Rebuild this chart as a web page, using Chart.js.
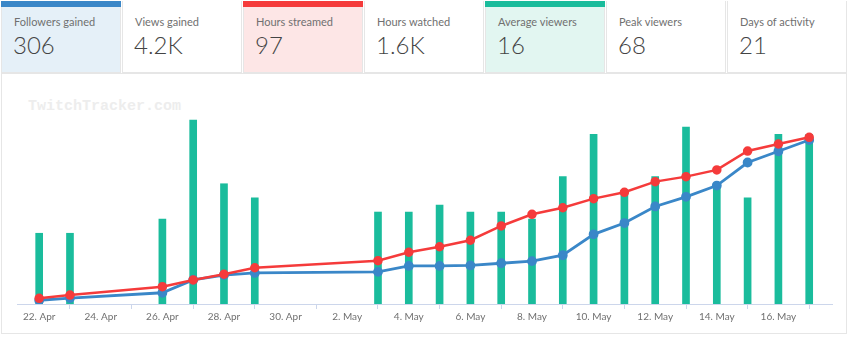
<!DOCTYPE html>
<html>
<head>
<meta charset="utf-8">
<script src="https://cdn.jsdelivr.net/npm/chart.js@4.4.1/dist/chart.umd.min.js"></script>
<style>
  html, body { margin: 0; padding: 0; background: #fff; }
  body { width: 850px; height: 337px; position: relative; overflow: hidden; font-family: Lato, "Open Sans", sans-serif; }
  .box { position: absolute; top: 1px; height: 72px; width: 120px; border: 1px solid #e6e6e6; border-top: none; box-sizing: border-box; background: #fff; }
  .box .bar { position: absolute; left: -1px; right: -1px; top: 0; height: 6px; }
  .box .lbl { position: absolute; left: 12px; top: 14px; font-size: 11px; color: #707070; white-space: nowrap; }
  .box .val { position: absolute; left: 11px; top: 29px; font-size: 24px; font-weight: 300; color: #444; white-space: nowrap; }
  #panel { position: absolute; left: 1px; top: 73px; width: 846px; height: 261px; border: 1px solid #e6e6e6; box-sizing: border-box; }
  #mark { position: absolute; left: 28px; top: 98px; font-family: "Liberation Mono", "DejaVu Sans Mono", monospace; font-weight: bold; font-size: 15px; color: #ededed; }
  #wrap { position: absolute; left: 0; top: 74px; width: 850px; height: 263px; }
</style>
</head>
<body>
<div id="panel"></div>
<div id="mark">TwitchTracker.com</div>
<div id="stats"></div>
<div id="wrap"><canvas id="chart"></canvas></div>
<script>
// header stats
const statLabels = ["Followers gained", "Views gained", "Hours streamed", "Hours watched", "Average viewers", "Peak viewers", "Days of activity"];
const statValues = ["306", "4.2K", "97", "1.6K", "16", "68", "21"];
const statAccent = ["#3a87c8", null, "#f53b3b", null, "#1abc9c", null, null];
const statBg = ["#e5f0f8", "#fff", "#fde6e6", "#fff", "#e2f6f1", "#fff", "#fff"];

// daily data (active days only)
const days = ["04-22", "04-23", "04-26", "04-27", "04-28", "04-29", "05-03", "05-04", "05-05", "05-06", "05-07",
  "05-08", "05-09", "05-10", "05-11", "05-12", "05-13", "05-14", "05-15", "05-16", "05-17"];
const avgViewers = [10, 10, 12, 26, 17, 15, 13, 13, 14, 13, 13, 12, 18, 24, 16, 18, 25, 17, 15, 24, 24];
const hoursCumulative = [3.3, 5.2, 10.1, 14.0, 17.3, 21.1, 25.2, 30.1, 33.3, 37.1, 45.4, 52.2, 56.0, 61.3, 65.0, 71.2, 74.1, 78.0, 89.0, 93.1, 97.0];
const followersCumulative = [7, 11, 21, 45, 54, 58, 60, 71, 71, 72, 76, 80, 91, 130, 151, 182, 200, 221, 264, 285, 306];
const monthNames = ["Jan", "Feb", "Mar", "Apr", "May", "Jun", "Jul", "Aug", "Sep", "Oct", "Nov", "Dec"];

const stats = document.getElementById("stats");
statLabels.forEach((lbl, i) => {
  const box = document.createElement("div");
  box.className = "box";
  box.style.left = (1 + i * 121) + "px";
  box.style.background = statBg[i];
  box.innerHTML = (statAccent[i] ? `<div class="bar" style="background:${statAccent[i]}"></div>` : "") +
    `<div class="lbl">${lbl}</div><div class="val">${statValues[i]}</div>`;
  stats.appendChild(box);
});

const start = Date.UTC(2018, 3, 22);
const dayIndex = s => {
  const [m, d] = s.split("-").map(Number);
  return Math.round((Date.UTC(2018, m - 1, d) - start) / 86400000);
};
const dayLabel = v => {
  const d = new Date(start + v * 86400000);
  return d.getUTCDate() + ". " + monthNames[d.getUTCMonth()];
};
const xs = days.map(dayIndex);

new Chart(document.getElementById("chart"), {
  type: "bar",
  data: {
    datasets: [
      {
        type: "line",
        data: xs.map((x, i) => ({ x, y: hoursCumulative[i] })),
        yAxisID: "yHours",
        borderColor: "#f53b3b",
        backgroundColor: "#f53b3b",
        borderWidth: 2.5,
        pointRadius: 3.5,
        order: 0
      },
      {
        type: "line",
        data: xs.map((x, i) => ({ x, y: followersCumulative[i] })),
        yAxisID: "yFollowers",
        borderColor: "#3a87c8",
        backgroundColor: "#3a87c8",
        borderWidth: 2.8,
        pointRadius: 3.5,
        order: 1
      },
      {
        data: xs.map((x, i) => ({ x, y: avgViewers[i] })),
        yAxisID: "yViewers",
        backgroundColor: "#1abc9c",
        barThickness: 7,
        order: 2
      }
    ]
  },
  options: {
    responsive: true,
    maintainAspectRatio: false,
    animation: false,
    layout: { padding: { left: 17, right: 18, top: 10, bottom: 13 } },
    plugins: { legend: { display: false }, tooltip: { enabled: false } },
    scales: {
      x: {
        type: "linear",
        min: -0.72,
        max: 25.74,
        offset: false,
        afterBuildTicks: s => { s.ticks = [0, 2, 4, 6, 8, 10, 12, 14, 16, 18, 20, 22, 24].map(v => ({ value: v })); },
        afterFit: s => { s.height = 20; },
        grid: { drawOnChartArea: false, tickLength: 5, tickColor: "#ccd6eb" },
        border: { color: "#ccd6eb" },
        ticks: {
          autoSkip: false,
          maxRotation: 0,
          padding: 2,
          color: "#707070",
          font: { family: "Lato", size: 10 },
          callback: v => dayLabel(v)
        }
      },
      yViewers: { display: false, min: 0, max: 31.1 },
      yHours: { display: false, min: 0, max: 128 },
      yFollowers: { display: false, min: 0, max: 410.5 }
    }
  }
});
</script>
</body>
</html>
